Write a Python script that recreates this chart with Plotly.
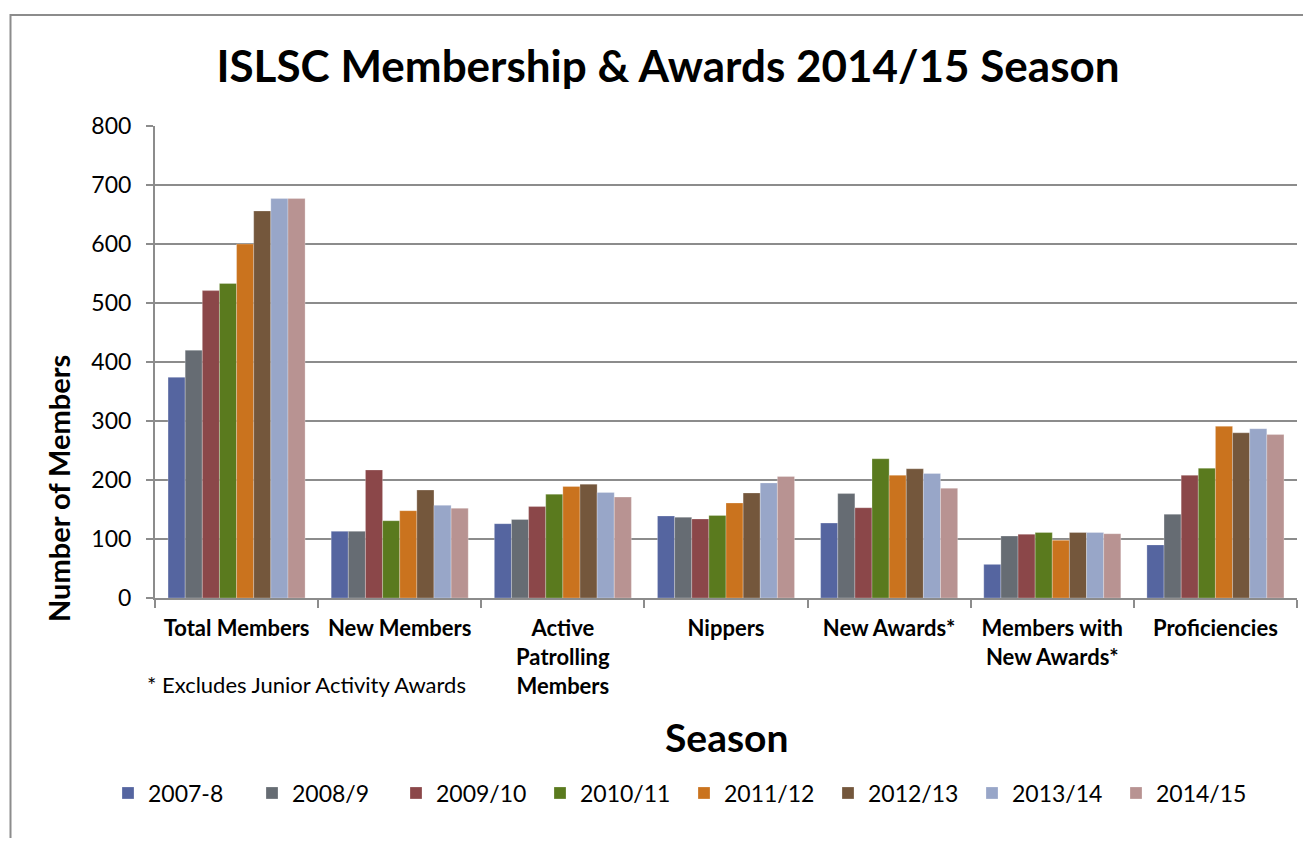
import plotly.graph_objects as go

categories = ["Total Members", "New Members", "Active<br>Patrolling<br>Members", "Nippers",
              "New Awards*", "Members with<br>New Awards*", "Proficiencies"]
seasons = ["2007-8", "2008/9", "2009/10", "2010/11", "2011/12", "2012/13", "2013/14", "2014/15"]

s2007_8 = [374, 113, 126, 139, 127, 57, 90]
s2008_9 = [420, 113, 133, 137, 177, 105, 142]
s2009_10 = [521, 217, 155, 134, 153, 108, 208]
s2010_11 = [533, 131, 176, 140, 236, 111, 220]
s2011_12 = [600, 148, 189, 161, 208, 98, 291]
s2012_13 = [656, 183, 193, 178, 219, 111, 280]
s2013_14 = [677, 157, 179, 195, 211, 111, 287]
s2014_15 = [677, 152, 171, 206, 186, 109, 277]

series = [s2007_8, s2008_9, s2009_10, s2010_11, s2011_12, s2012_13, s2013_14, s2014_15]
colors = ["#5565A0", "#666C73", "#8B4749", "#5A7A1E", "#CA731E", "#74573C", "#98A6C8", "#B89392"]

FONT = "Lato"
OFF = 8  # page body margin

fig = go.Figure()
for name, vals, col in zip(seasons, series, colors):
    fig.add_trace(go.Bar(name=name, x=categories, y=vals,
                         marker=dict(color=col, line=dict(color="rgba(255,255,255,0.5)", width=0.5))))

W, H = 1295, 830
# plot area in page coordinates
L, R, T, B = 155, 1297, 126, 598
pw, ph = R - L, B - T

def px(x):
    return (x - L) / pw

def py(y):
    return (B - y) / ph

fig.update_layout(
    width=W, height=H,
    margin=dict(l=L - OFF, r=W - (R - OFF), t=T - OFF, b=H - (B - OFF), autoexpand=False),
    paper_bgcolor="white", plot_bgcolor="white",
    barmode="group", bargap=0.16, bargroupgap=0,
    font=dict(family=FONT, color="black"),
    title=dict(text="ISLSC Membership & Awards 2014/15 Season", x=(668 - OFF) / W, xanchor="center",
               y=1 - (67 - OFF) / H, yanchor="middle",
               font=dict(family=FONT, size=44, weight="bold", color="black")),
    legend=dict(orientation="h", x=px(108), xanchor="left", y=py(793), yanchor="middle",
                font=dict(family=FONT, size=23), traceorder="normal", itemwidth=30,
                entrywidth=99),
    showlegend=True,
)

fig.update_xaxes(
    type="category", showline=True, linecolor="#8C8C8C", linewidth=2,
    ticks="outside", tickson="boundaries", ticklen=8, tickcolor="#8C8C8C", tickwidth=2,
    tickfont=dict(family=FONT, size=22, weight="bold", color="black"),
    ticklabelstandoff=10,
    showgrid=False,
)
fig.update_yaxes(
    range=[0, 800], dtick=100, showline=True, linecolor="#8C8C8C", linewidth=2,
    ticks="outside", ticklen=7, tickcolor="#8C8C8C", tickwidth=2,
    tickfont=dict(family=FONT, size=23, color="black"),
    ticklabelstandoff=10,
    showgrid=True, gridcolor="#8C8C8C", gridwidth=2, zeroline=False,
)

fig.add_annotation(text="Number of Members", textangle=-90, x=px(58), y=py(489),
                   xref="paper", yref="paper", showarrow=False,
                   xanchor="center", yanchor="middle",
                   font=dict(family=FONT, size=29, weight="bold", color="black"))
fig.add_annotation(text="Season", x=px(727), y=py(737), xref="paper", yref="paper",
                   xanchor="center", yanchor="middle",
                   showarrow=False, font=dict(family=FONT, size=39, weight="bold", color="black"))
fig.add_annotation(text="* Excludes Junior Activity Awards", x=px(145), y=py(684),
                   xref="paper", yref="paper", xanchor="left", yanchor="middle", showarrow=False,
                   font=dict(family=FONT, size=22, color="black"))

fig.add_shape(type="rect", xref="paper", yref="paper",
              x0=px(10.5), x1=px(1340), y0=py(15), y1=py(880),
              line=dict(color="#8C8C8C", width=2), fillcolor="rgba(0,0,0,0)", layer="below")

fig.write_html("out.html")
